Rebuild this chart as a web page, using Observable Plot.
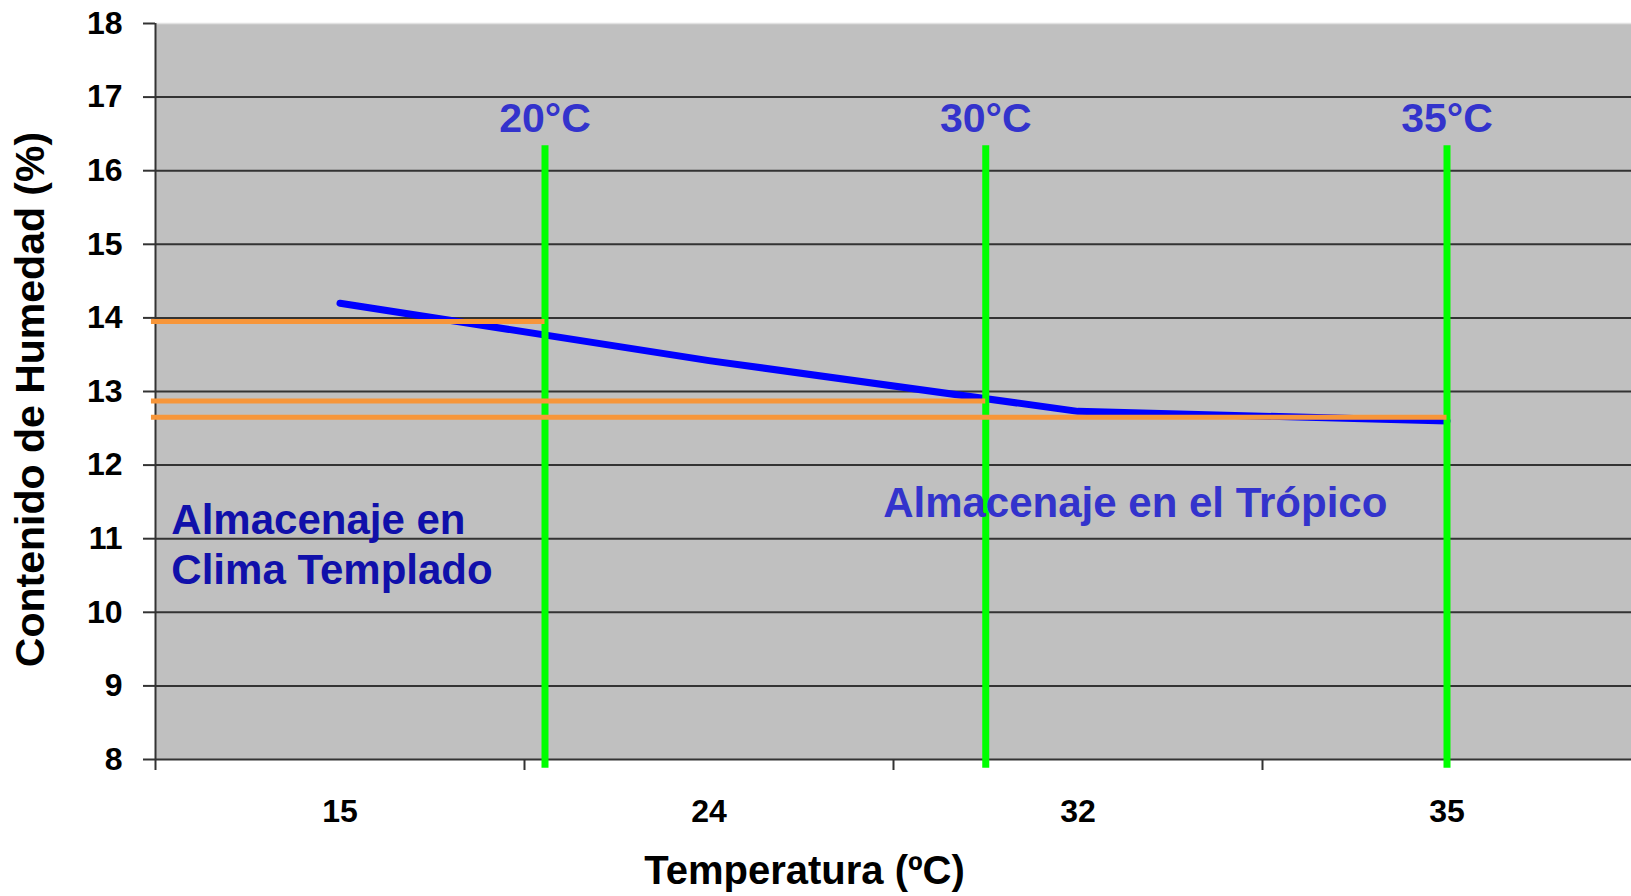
<!DOCTYPE html>
<html>
<head>
<meta charset="utf-8">
<script src="https://cdn.jsdelivr.net/npm/d3@7"></script>
<script src="https://cdn.jsdelivr.net/npm/@observablehq/plot@0.6"></script>
<style>
  html, body { margin: 0; padding: 0; background: #ffffff; }
  #chart svg { display: block; font-family: "Liberation Sans", Arial, sans-serif; }
</style>
</head>
<body>
<div id="chart"></div>
<script>
// Storage temperature categories shown on the x axis (°C)
const categories = ["15", "24", "32", "35"];
const temperatures = [15, 24, 32, 35];

// Equilibrium moisture content (%) at each storage temperature
const moisture = [14.2, 13.42, 12.73, 12.6];

// Reference storage temperatures and the moisture threshold read at each one
const markerTemps = [20, 30, 35];
const markerLabels = ["20°C", "30°C", "35°C"];
const thresholds = [13.95, 12.87, 12.65];

// Y axis ticks (%)
const yTicks = [8, 9, 10, 11, 12, 13, 14, 15, 16, 17, 18];
const gridValues = [9, 10, 11, 12, 13, 14, 15, 16, 17];

// Categories sit at equally spaced slots 0..3; temperatures between two
// categories are placed proportionally between their slots.
const slotOf = d3.scaleLinear().domain(temperatures).range(temperatures.map((_, i) => i));

const curve = temperatures.map((t, i) => ({slot: slotOf(t), value: moisture[i]}));
const markers = markerTemps.map((t, i) => ({slot: slotOf(t), label: markerLabels[i], threshold: thresholds[i]}));

const GRID = "#333333";
const BOLD = "bold";

const chart = Plot.plot({
  width: 1631,
  height: 896,
  marginLeft: 155,
  marginRight: 0,
  marginTop: 23,
  marginBottom: 137,
  style: {fontFamily: "'Liberation Sans', Arial, sans-serif", background: "#ffffff", overflow: "visible"},
  x: {type: "linear", domain: [-0.5, 3.5]},
  y: {type: "linear", domain: [8, 18]},
  marks: [
    Plot.frame({fill: "#c0c0c0", stroke: "none"}),
    Plot.ruleY([18], {stroke: "#e2e2e2", strokeWidth: 1.5}),
    Plot.ruleY(gridValues, {stroke: GRID, strokeWidth: 2}),
    Plot.ruleY([8], {stroke: GRID, strokeWidth: 2}),
    Plot.ruleX([-0.5], {stroke: GRID, strokeWidth: 2}),

    // y axis
    Plot.axisY({
      ticks: yTicks, tickSize: 12, tickPadding: 21, stroke: GRID, strokeWidth: 2,
      fontSize: 32, fontWeight: BOLD, fill: "#000000", label: null
    }),
    // x axis: tick marks between categories, labels centred on each category
    Plot.axisX({
      ticks: [-0.5, 0.5, 1.5, 2.5], tickSize: 11, stroke: GRID, strokeWidth: 2,
      tickFormat: () => "", label: null
    }),
    Plot.axisX({
      ticks: [0, 1, 2, 3], tickSize: 0, tickPadding: 40, tickFormat: (i) => categories[i],
      fontSize: 32, fontWeight: BOLD, fill: "#000000", label: null
    }),

    // moisture content curve
    Plot.line(curve, {
      x: "slot", y: "value", stroke: "#0000ff", strokeWidth: 7,
      strokeLinecap: "round", strokeLinejoin: "round"
    }),

    // reference temperature lines
    Plot.ruleX(markers, {x: "slot", y1: 16.34, y2: 7.88, stroke: "#00ff00", strokeWidth: 7}),
    Plot.text(markers, {
      x: "slot", y: 16.92, text: "label", lineAnchor: "top", textAnchor: "middle",
      fontSize: 41, fontWeight: BOLD, fill: "#3333cc"
    }),

    // threshold lines running from the axis to each temperature line
    Plot.ruleY(markers, {
      y: "threshold", x1: -0.511, x2: "slot", stroke: "#f7963a", strokeWidth: 5
    }),

    // region annotations
    Plot.text(["Almacenaje en\nClima Templado"], {
      x: -0.457, y: 11.55, text: (d) => d, textAnchor: "start", lineAnchor: "top",
      lineHeight: 1.19, fontSize: 42, fontWeight: BOLD, fill: "#1010aa"
    }),
    Plot.text(["Almacenaje en el Trópico"], {
      x: 1.472, y: 11.7, text: (d) => d, textAnchor: "start", lineAnchor: "top",
      fontSize: 42, fontWeight: BOLD, fill: "#3333cc"
    }),

    // axis titles
    Plot.text(["Temperatura (ºC)"], {
      frameAnchor: "bottom", text: (d) => d, dx: -89, dy: 96, lineAnchor: "top",
      textAnchor: "middle", fontSize: 40, fontWeight: BOLD, fill: "#000000"
    }),
    Plot.text(["Contenido de Humedad (%)"], {
      frameAnchor: "left", text: (d) => d, rotate: -90, dx: -124.7, dy: 8,
      textAnchor: "middle", lineAnchor: "middle", fontSize: 41, fontWeight: BOLD, fill: "#000000"
    })
  ]
});

document.getElementById("chart").appendChild(chart);
</script>
</body>
</html>
